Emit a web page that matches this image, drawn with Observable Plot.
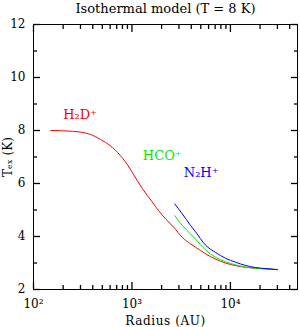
<!DOCTYPE html>
<html>
<head>
<meta charset="utf-8">
<script src="https://cdn.jsdelivr.net/npm/d3@7"></script>
<script src="https://cdn.jsdelivr.net/npm/@observablehq/plot@0.6"></script>
<style>
  html, body { margin: 0; padding: 0; background: white; }
  g[aria-label="title"] text { letter-spacing: 0.9px; }
  g[aria-label="series-labels"] text { letter-spacing: 0.8px; }
  g[aria-label="x-axis label"] text { letter-spacing: 0.6px; }
</style>
</head>
<body>
<div id="chart"></div>
<script>
const titleText = "Isothermal model (T = 8 K)";
const xLabel = "Radius (AU)";
const yLabel = "Tₑₓ (K)";

// H2D+ (red)
const h2dR = [150, 250, 380, 480, 600, 760, 960, 1130, 1430, 1660, 1870, 2190, 2655, 3236, 3930, 4416, 5570, 7040, 8900, 11250, 14190, 17940, 22650, 30000];
const h2dT = [8.00, 7.97, 7.85, 7.66, 7.43, 7.06, 6.55, 6.11, 5.55, 5.23, 4.97, 4.67, 4.35, 3.97, 3.72, 3.60, 3.35, 3.15, 3.00, 2.90, 2.84, 2.80, 2.78, 2.75];
// HCO+ (green)
const hcoR = [2716, 3236, 3930, 4416, 5570, 7040, 8900, 11250, 14190, 17940, 22650, 30000];
const hcoT = [4.79, 4.42, 4.10, 3.90, 3.50, 3.22, 3.05, 2.93, 2.85, 2.80, 2.78, 2.75];
// N2H+ (blue)
const n2hR = [2716, 3236, 3930, 4416, 5570, 7040, 8900, 11250, 14190, 17940, 22650, 30000];
const n2hT = [5.23, 4.86, 4.42, 4.18, 3.68, 3.40, 3.18, 3.03, 2.91, 2.83, 2.79, 2.75];

const seriesNames = ["H₂D⁺", "HCO⁺", "N₂H⁺"];
const seriesColors = ["#ff0000", "#00ee00", "#0000ff"];
const labelR = [200, 1290, 3360];
const labelT = [8.60, 7.04, 6.40];

const xMajor = [100, 1000, 10000];
const xTickLabels = ["10²", "10³", "10⁴"];
const xMinor = [200, 300, 400, 500, 600, 700, 800, 900, 2000, 3000, 4000, 5000, 6000, 7000, 8000, 9000, 20000, 30000, 40000];
const yMajor = [2, 4, 6, 8, 10, 12];
const yMinor = [3, 5, 7, 9, 11];

const toRows = (r, t, name) => r.map((d, i) => ({r: d, t: t[i], name}));
const rows = [
  ...toRows(h2dR, h2dT, seriesNames[0]),
  ...toRows(hcoR, hcoT, seriesNames[1]),
  ...toRows(n2hR, n2hT, seriesNames[2])
];
const labels = seriesNames.map((n, i) => ({name: n, r: labelR[i], t: labelT[i], c: seriesColors[i]}));
const empty = () => "";

const W = 300, H = 327, ML = 33, MR = 3, MT = 24, MB = 38;
const majorLen = 7, minorLen = 4;

// inward ticks on all four sides (negative tick size points into the frame)
const inwardX = (ticks, len) => [
  Plot.axisX({anchor: "bottom", ticks, tickSize: -len, tickFormat: empty, label: null, stroke: "black", strokeWidth: 1.3}),
  Plot.axisX({anchor: "top", ticks, tickSize: -len, tickFormat: empty, label: null, stroke: "black", strokeWidth: 1.3})
];
const inwardY = (ticks, len) => [
  Plot.axisY({anchor: "left", ticks, tickSize: -len, tickFormat: empty, label: null, stroke: "black", strokeWidth: 1.3}),
  Plot.axisY({anchor: "right", ticks, tickSize: -len, tickFormat: empty, label: null, stroke: "black", strokeWidth: 1.3})
];

const chart = Plot.plot({
  width: W,
  height: H,
  marginLeft: ML,
  marginRight: MR,
  marginTop: MT,
  marginBottom: MB,
  style: {fontFamily: "DejaVu Serif", fontSize: "12px", background: "white", color: "black"},
  x: {type: "log", domain: [100, 48000]},
  y: {domain: [2, 12]},
  color: {domain: seriesNames, range: seriesColors},
  marks: [
    Plot.axisX({anchor: "bottom", ticks: xMajor, tickSize: 0, tickPadding: 10, fontSize: 12,
      tickFormat: d => xTickLabels[xMajor.indexOf(d)], label: xLabel, labelAnchor: "center", labelOffset: 35, labelArrow: "none"}),
    Plot.axisY({anchor: "left", ticks: yMajor, tickSize: 0, tickPadding: 8, fontSize: 12,
      tickFormat: d => String(d), label: yLabel, labelAnchor: "center", labelOffset: 30, labelArrow: "none"}),
    Plot.frame({stroke: "black"}),
    Plot.line(rows, {x: "r", y: "t", z: "name", stroke: "name", strokeWidth: 1, curve: "monotone-x"}),
    Plot.text(labels, {x: "r", y: "t", text: "name", fill: "c", textAnchor: "start", lineAnchor: "middle", fontSize: 13, ariaLabel: "series-labels"}),
    Plot.text([titleText], {frameAnchor: "top", dy: -16, lineAnchor: "middle", fontSize: 13, fill: "black", ariaLabel: "title"}),
    ...inwardX(xMajor, majorLen),
    ...inwardX(xMinor, minorLen),
    ...inwardY(yMajor, majorLen),
    ...inwardY(yMinor, minorLen)
  ]
});
document.getElementById("chart").appendChild(chart);
</script>
</body>
</html>
